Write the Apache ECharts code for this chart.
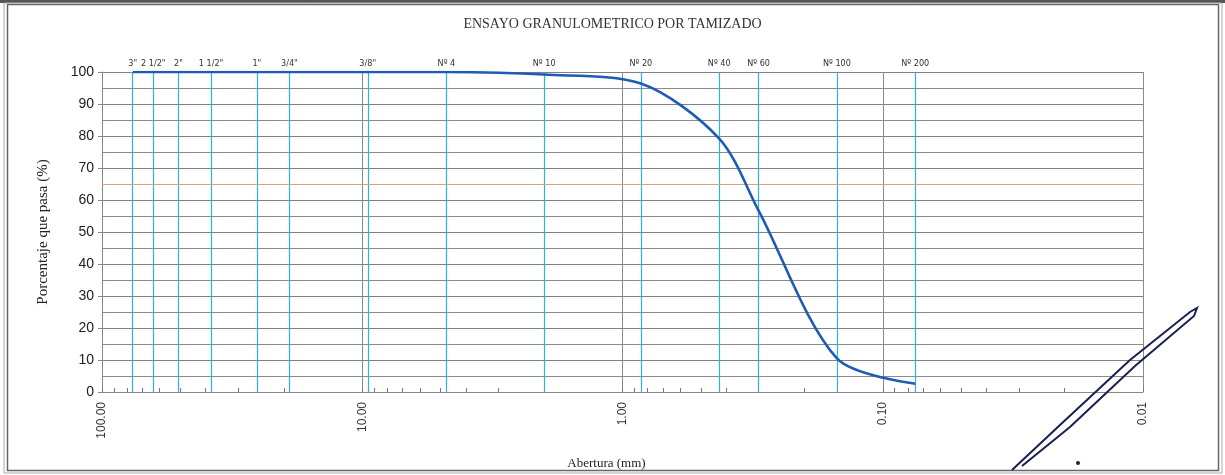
<!DOCTYPE html>
<html>
<head>
<meta charset="utf-8">
<script src="https://cdn.jsdelivr.net/npm/echarts@6/dist/echarts.min.js"></script>
<style>
html,body{margin:0;padding:0;background:#fff;}
#chart{width:1225px;height:475px;}
</style>
</head>
<body>
<div id="chart"></div>
<script>
const titleText = 'ENSAYO GRANULOMETRICO POR TAMIZADO';
const yAxisName = 'Porcentaje que pasa (%)';
const xAxisName = 'Abertura (mm)';
const sieveLabels = ['3"', '2 1/2"', '2"', '1 1/2"', '1"', '3/4"', '3/8"', 'Nº 4', 'Nº 10', 'Nº 20', 'Nº 40', 'Nº 60', 'Nº 100', 'Nº 200'];
const sieveSizes = [76.2, 63.5, 50.8, 38.1, 25.4, 19.05, 9.525, 4.75, 2.0, 0.85, 0.425, 0.30, 0.15, 0.075];
const percentPassing = [100, 100, 100, 100, 100, 100, 100, 100, 99.2, 96.4, 79.2, 56.7, 10.5, 2.6];
const xMin = 0.01, xMax = 100;
const minorTickValues = [];
for (let e = -2; e <= 1; e++) {
  for (let m = 1; m <= 9; m++) minorTickValues.push(+(m * Math.pow(10, e)).toPrecision(6));
}
minorTickValues.push(100);

const SIEVE_BLUE = '#2fb0e8';
const narrowFont = "'Liberation Sans Narrow', 'DejaVu Sans Condensed', 'Liberation Sans', Arial, sans-serif";

const chart = echarts.init(document.getElementById('chart'), null, {renderer: 'canvas'});

const sieveMarks = sieveSizes.map((s, i) => [
  {xAxis: s, yAxis: 0, name: sieveLabels[i], lineStyle: {color: SIEVE_BLUE, width: 1.2, type: 'solid', opacity: 1}},
  {xAxis: s, yAxis: 100}
]);

const option = {
  backgroundColor: '#fff',
  animation: false,
  title: {
    text: titleText,
    left: 'center',
    top: 12,
    textStyle: {fontFamily: 'Liberation Serif', fontSize: 14, fontWeight: 'normal', color: '#333'}
  },
  grid: {left: 102, right: 82, top: 72, bottom: 77, containLabel: false},
  xAxis: [{
    type: 'log',
    logBase: 10,
    inverse: true,
    min: xMin,
    max: xMax,
    splitNumber: 4,
    name: xAxisName,
    nameLocation: 'middle',
    nameGap: 65,
    nameTextStyle: {fontFamily: 'Liberation Serif', fontSize: 13, color: '#222', padding: [0, 32, 0, 0]},
    axisLine: {show: true, lineStyle: {color: '#888', width: 1}},
    axisTick: {show: false},
    axisLabel: {
      rotate: 90,
      margin: 10,
      fontFamily: 'Liberation Sans',
      fontSize: 12,
      color: '#333',
      formatter: v => Number(v).toFixed(2)
    },
    splitLine: {show: true, lineStyle: {color: '#8a8a8a', width: 1}}
  }, {
    type: 'log',
    logBase: 10,
    inverse: true,
    min: xMin,
    max: xMax,
    position: 'bottom',
    gridIndex: 0,
    axisLine: {show: false},
    axisTick: {show: true, inside: true, length: 4, customValues: minorTickValues, lineStyle: {color: '#777', width: 1}},
    axisLabel: {show: false},
    splitLine: {show: false}
  }],
  yAxis: {
    type: 'value',
    min: 0,
    max: 100,
    interval: 10,
    name: yAxisName,
    nameLocation: 'middle',
    nameGap: 51,
    nameTextStyle: {fontFamily: 'Liberation Serif', fontSize: 15, color: '#222'},
    axisLine: {show: true, lineStyle: {color: '#888'}},
    axisTick: {show: true, length: 4, lineStyle: {color: '#888'}},
    axisLabel: {fontFamily: 'Liberation Sans', fontSize: 14, color: '#222', margin: 8},
    splitLine: {show: true, lineStyle: {color: '#7f7f86', width: 1}},
    minorTick: {show: false, splitNumber: 2},
    minorSplitLine: {show: true, lineStyle: {color: '#8a8a90', width: 1}}
  },
  series: [{
    type: 'line',
    xAxisIndex: 0,
    data: [],
    z: 3,
    markLine: {
      silent: true,
      symbol: ['none', 'none'],
      animation: false,
      lineStyle: {color: SIEVE_BLUE, width: 1.2, type: 'solid'},
      label: {
        show: true,
        position: 'end',
        distance: 4,
        formatter: p => p.name,
        fontFamily: narrowFont,
        fontSize: 9,
        color: '#333'
      },
      emphasis: {disabled: true},
      data: sieveMarks
    }
  }, {
    type: 'line',
    xAxisIndex: 0,
    data: sieveSizes.map((s, i) => [s, percentPassing[i]]),
    smooth: 0.3,
    showSymbol: false,
    symbol: 'none',
    lineStyle: {color: '#1d5cb4', width: 2.6},
    z: 5
  }, {
    type: 'line',
    xAxisIndex: 0,
    data: [],
    markLine: {
      silent: true,
      symbol: ['none', 'none'],
      label: {show: false},
      lineStyle: {color: '#d9a184', width: 1, type: 'solid'},
      data: [{yAxis: 65}]
    },
    z: 1
  }],
  graphic: [
    {type: 'rect', shape: {x: 0, y: 0, width: 1225, height: 3}, style: {fill: '#555'}, silent: true},
    {type: 'rect', shape: {x: 7.5, y: 4.5, width: 1211, height: 466}, style: {fill: 'none', stroke: '#666', lineWidth: 1.5}, silent: true},
    {type: 'rect', shape: {x: 4, y: 3, width: 1218, height: 470}, style: {fill: 'none', stroke: '#aaa', lineWidth: 1}, silent: true},
    {type: 'polyline', shape: {points: [[1012, 470], [1060, 425], [1130, 360], [1190, 312], [1197, 308], [1194, 316], [1135, 366], [1070, 427], [1022, 466]]}, style: {stroke: '#1b1f4f', lineWidth: 2, fill: 'none'}, silent: true, z: 100},
    {type: 'circle', shape: {cx: 1078, cy: 463, r: 2}, style: {fill: '#1b1f4f'}, silent: true, z: 100}
  ]
};
chart.setOption(option);
</script>
</body>
</html>
